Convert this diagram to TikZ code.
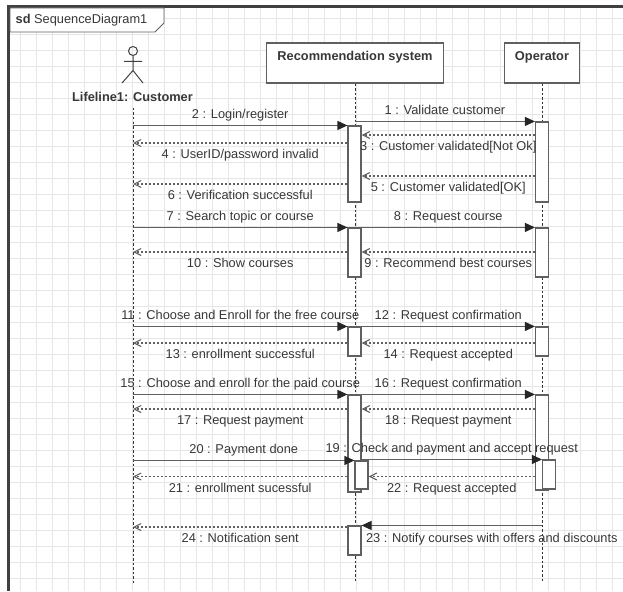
\documentclass[tikz,border=0pt]{standalone}
\usepackage{fontspec}
\setmainfont{Liberation Sans}
\usetikzlibrary{arrows.meta}
\definecolor{ln}{HTML}{606060}
\definecolor{txt}{HTML}{383838}
\definecolor{grd}{HTML}{E6E6E6}

\begin{document}
\begin{tikzpicture}[x=1pt,y=-1pt,
    lbl/.style={font=\fontsize{12.8}{14}\selectfont,text=txt,inner sep=2pt,text height=9.5pt,text depth=2.5pt},
    tagup/.style={lbl,above=1.5pt},
    tagdn/.style={lbl,below=3.5pt},
    msg/.style={ln,line width=1.1pt,-{Triangle[length=10pt,width=9pt,color=black!85]}},
    ret/.style={ln,line width=1.1pt,dash pattern=on 2pt off 2pt,-{Straight Barb[length=7pt,width=7pt]}},
    act/.style={draw=ln,fill=white,line width=1.1pt,minimum width=13pt,inner sep=0pt},
    life/.style={black!80,line width=1pt,dash pattern=on 2.5pt off 2pt},
    lifebox/.style={draw=ln,fill=white,line width=1.1pt,minimum height=40pt,inner sep=0pt}]
  \useasboundingbox[fill=white] (0,0) rectangle (623,591);
  % grid
  \foreach \x in {20,36,...,612} \draw[grd,line width=0.6pt] (\x,8) -- (\x,591);
  \foreach \y in {18.5,34.5,...,590} \draw[grd,line width=0.6pt] (10,\y) -- (623,\y);
  \draw[black!75,line width=2.5pt] (8.5,591) -- (8.5,6.5) -- (623,6.5);
  \draw[ln,fill=white,line width=0.8pt] (10,8) -- (164,8) -- (164,23) -- (155,32) -- (10,32) -- cycle;
  \node[lbl,anchor=west] (title) at (13.5,20.5) {\textbf{sd} SequenceDiagram1};

  % actor
  \draw[black!75,line width=1pt] (133,51) circle (4.5)
    (133,55.5) -- (133,70.5) (124,61.5) -- (142,61.5)
    (122,83) -- (133,70.5) -- (143,83);
  \node[lbl] (culbl) at (132.5,98) {\bfseries Lifeline1: Customer};
  \node[lifebox,minimum width=177pt,label={[lbl,anchor=north,inner sep=8pt]north:\bfseries Recommendation system}] (rs) at (355,63) {};
  \node[lifebox,minimum width=74.5pt,label={[lbl,anchor=north,inner sep=8pt]north:\bfseries Operator}] (op) at (542,63) {};

  \coordinate (cu) at (133,583);
  \draw[life] (cu |- 0,108) -- (cu);
  \draw[life] (rs.south) -- (rs.south |- cu);
  \draw[life] (op.south) -- (op.south |- cu);

  % activations
  \node[act,minimum height=76pt] (rA) at (354.5,164) {};
  \node[act,minimum height=80pt] (oA) at (542,162) {};
  \node[act,minimum height=49pt] (rB) at (354.5,252.5) {};
  \node[act,minimum height=49pt] (oB) at (542,252.5) {};
  \node[act,minimum height=29pt] (rC) at (354.5,341.5) {};
  \node[act,minimum height=29pt] (oC) at (542,341.5) {};
  \node[act,minimum height=97pt] (rD) at (354.5,443.5) {};
  \node[act,minimum height=95pt] (oD) at (542,442.5) {};
  \node[act,minimum height=28pt] (rE) at (361.5,475) {};
  \node[act,minimum height=29pt] (oE) at (549,474.5) {};
  \node[act,minimum height=29pt] (rF) at (354.5,540.5) {};

  \foreach \n/\y in {3/135,4/143,5/176,6/184,9/252,13/343,17/409,21/476.5,24/527}
    \coordinate (l\n) at (0,\y);

  % messages
  \draw[msg] (rs.south |- oA.north) -- node[tagup]{1 : Validate customer} (oA.north west);
  \draw[msg] (cu |- rA.north) -- node[tagup]{2 : Login/register} (rA.north west);
  \draw[ret] (oA.west |- l3) -- node[tagdn]{3 : Customer validated[Not Ok]} (rA.east |- l3);
  \draw[ret] (rA.west |- l4) -- node[tagdn]{4 : UserID/password invalid} (cu |- l4);
  \draw[ret] (oA.west |- l5) -- node[tagdn]{5 : Customer validated[OK]} (rA.east |- l5);
  \draw[ret] (rA.west |- l6) -- node[tagdn]{6 : Verification successful} (cu |- l6);
  \draw[msg] (cu |- rB.north) -- node[tagup]{7 : Search topic or course} (rB.north west);
  \draw[msg] (rB.north east) -- node[tagup]{8 : Request course} (oB.north west);
  \draw[ret] (oB.west |- l9) -- node[tagdn]{9 : Recommend best courses} (rB.east |- l9);
  \draw[ret] (rB.west |- l9) -- node[tagdn]{10 : Show courses} (cu |- l9);
  \draw[msg] (cu |- rC.north) -- node[tagup]{11 : Choose and Enroll for the free course} (rC.north west);
  \draw[msg] (rC.north east) -- node[tagup]{12 : Request confirmation} (oC.north west);
  \draw[ret] (rC.west |- l13) -- node[tagdn]{13 : enrollment successful} (cu |- l13);
  \draw[ret] (oC.west |- l13) -- node[tagdn]{14 : Request accepted} (rC.east |- l13);
  \draw[msg] (cu |- rD.north) -- node[tagup]{15 : Choose and enroll for the paid course} (rD.north west);
  \draw[msg] (rD.north east) -- node[tagup]{16 : Request confirmation} (oD.north west);
  \draw[ret] (rD.west |- l17) -- node[tagdn]{17 : Request payment} (cu |- l17);
  \draw[ret] (oD.west |- l17) -- node[tagdn]{18 : Request payment} (rD.east |- l17);
  \draw[msg] (rD.east |- oE.north) -- node[tagup]{19 : Check and payment and accept request} (oE.north west);
  \draw[msg] (cu |- rE.north) -- node[tagup]{20 : Payment done} (rE.north west);
  \draw[ret] (rD.west |- l21) -- node[tagdn]{21 : enrollment sucessful} (cu |- l21);
  \draw[ret] (oD.west |- l21) -- node[tagdn]{22 : Request accepted} (rE.east |- l21);
  \draw[msg] (op.south |- rF.north) -- (rF.north east)
    node[lbl,anchor=north west,xshift=2pt,yshift=-5pt]{23 : Notify courses with offers and discounts};
  \draw[ret] (rF.west |- l24) -- node[tagdn]{24 : Notification sent} (cu |- l24);
\end{tikzpicture}
\end{document}
